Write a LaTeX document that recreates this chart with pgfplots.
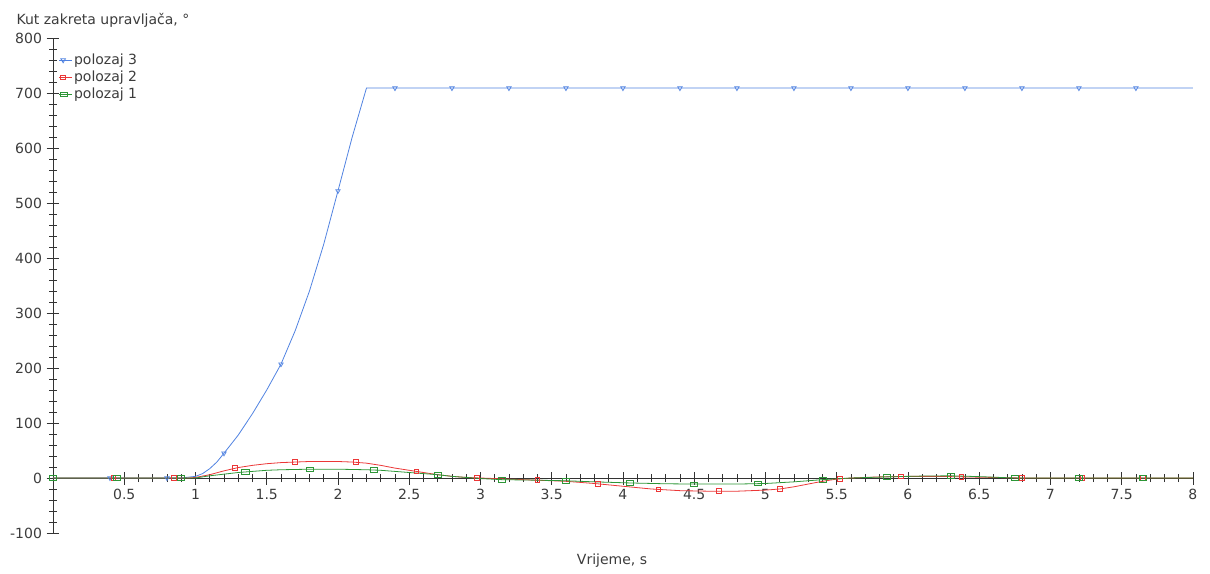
\documentclass[border=0pt]{standalone}
\usepackage{fontspec}
\setmainfont{DejaVu Sans}
\usepackage{pgfplots}
\pgfplotsset{compat=1.18}
\definecolor{cblue}{RGB}{80,130,225}
\definecolor{cred}{RGB}{235,55,55}
\definecolor{cgreen}{RGB}{45,150,55}
\definecolor{ctext}{RGB}{60,60,60}
\newcommand{\fs}{\fontsize{14}{17}\selectfont}
\begin{document}
\begin{tikzpicture}
\path[use as bounding box] (-53pt,-40pt) rectangle (1157pt,533pt);
\begin{axis}[
  at={(0pt,0pt)}, anchor=south west,
  scale only axis, width=1140pt, height=495pt,
  xmin=0, xmax=8, ymin=-100, ymax=800,
  axis lines=middle,
  axis line style={-, black!80, line width=0.8pt},
  hide obscured x ticks=false, hide obscured y ticks=false,
  xtick={0.5,1,1.5,2,2.5,3,3.5,4,4.5,5,5.5,6,6.5,7,7.5,8},
  xticklabels={0.5,1,1.5,2,2.5,3,3.5,4,4.5,5,5.5,6,6.5,7,7.5,8},
  ytick={-100,0,100,200,300,400,500,600,700,800},
  yticklabels={-100,0,100,200,300,400,500,600,700,800},
  minor x tick num=4, minor y tick num=4,
  tick align=center,
  major tick length=13pt, minor tick length=8pt,
  every tick/.style={black!80, line width=0.7pt},
  ticklabel style={font=\fs, text=ctext},
  xticklabel style={anchor=north, yshift=-1pt},
  yticklabel style={anchor=east, xshift=-1pt},
  xlabel={Vrijeme, s},
  ylabel={Kut zakreta upravljača, °},
  every axis x label/.style={at={(axis description cs:0.4904,-0.0565)}, anchor=center, font=\fs, text=ctext},
  every axis y label/.style={at={(axis description cs:-0.0351,1.0364)}, anchor=west, font=\fs, text=ctext},
  legend style={at={(axis description cs:0.004,0.973)}, anchor=north west, draw=none, fill=none,
    font=\fs, text=ctext, row sep=2pt, inner sep=1pt,
    nodes={inner sep=1.5pt}},
  legend cell align=left,
]
\addplot[cblue, line width=0.8pt, no markers,
  legend image code/.code={\draw[cblue, line width=0.8pt] (0pt,0pt) -- (13pt,0pt);
    \draw[cblue, line width=0.8pt] plot[mark=triangle, mark size=2.6pt, mark options={rotate=180, draw=cblue, fill=white}] coordinates {(4pt,0pt)};}]
table {
0 0
0.9 0
1.0 3
1.05 8
1.1 17
1.15 29
1.2 45
1.3 78
1.4 117
1.5 160
1.6 207
1.7 268
1.8 340
1.9 425
2.0 522
2.1 620
2.2 709
8 709
};
\addlegendentry{polozaj 3}
\addplot[cred, line width=0.8pt, no markers,
  legend image code/.code={\draw[cred, line width=0.8pt] (0pt,0pt) -- (13pt,0pt);
    \draw[cred, line width=0.9pt] plot[mark=square, mark size=2.3pt, mark options={draw=cred, fill=white}] coordinates {(4pt,0pt)};}]
table {
0 0
0.95 0
1.0 1
1.1 6
1.2 13
1.3 19
1.4 23
1.5 26
1.6 28
1.7 29
1.8 30
1.9 30
2.0 30
2.1 29
2.2 27
2.3 23
2.4 18
2.5 14
2.6 10
2.7 6
2.8 3
2.9 1
3.0 0
3.2 -2
3.4 -4
3.6 -6
3.8 -10
4.0 -15
4.2 -20
4.4 -23
4.6 -24
4.8 -24
5.0 -22
5.1 -20
5.2 -16
5.3 -11
5.4 -6
5.5 -2
5.6 0
5.8 2
6.0 3
6.2 3
6.4 2
6.6 1
6.8 0
8 0
};
\addlegendentry{polozaj 2}
\addplot[cgreen, line width=0.8pt, no markers,
  legend image code/.code={\draw[cgreen, line width=0.8pt] (0pt,0pt) -- (13pt,0pt);
    \draw[cgreen, line width=0.8pt] plot[mark=square, mark size=2.2pt, mark options={xscale=1.6, draw=cgreen, fill=white}] coordinates {(5pt,0pt)};}]
table {
0 0
1.0 0
1.1 4
1.2 7
1.3 10
1.4 12
1.5 14
1.6 15
1.8 16
2.0 16
2.2 15
2.3 14
2.4 12
2.5 10
2.6 8
2.7 6
2.8 3
2.9 1
3.0 -1
3.15 -3
3.4 -4
3.6 -5
3.8 -7
4.05 -9
4.3 -10.5
4.5 -11
4.8 -11
5.0 -10
5.2 -7
5.4 -3
5.6 0
5.85 2
6.1 3.5
6.3 4
6.5 2.5
6.75 0
8 0
};
\addlegendentry{polozaj 1}
% markers
\addplot[cblue, line width=0.7pt, only marks, mark=triangle, mark size=2.6pt,
  mark options={rotate=180, draw=cblue, fill=white}, forget plot]
table {
0.4 0
0.8 0
1.2 45
1.6 207
2.0 522
2.4 709
2.8 709
3.2 709
3.6 709
4.0 709
4.4 709
4.8 709
5.2 709
5.6 709
6.0 709
6.4 709
6.8 709
7.2 709
7.6 709
};
\addplot[cred, line width=0.9pt, only marks, mark=square, mark size=2.3pt,
  mark options={draw=cred, fill=white}, forget plot]
table {
0.425 0
0.85 0
1.275 18
1.7 29
2.125 29
2.55 12
2.975 0
3.4 -4
3.825 -11
4.25 -21
4.675 -24
5.1 -20
5.525 -2
5.95 3
6.375 2
6.8 0
7.225 0
7.65 0
};
\addplot[cgreen, line width=0.7pt, only marks, mark=square, mark size=2.2pt,
  mark options={xscale=1.6, draw=cgreen, fill=white}, forget plot]
table {
0 0
0.45 0
0.9 0
1.35 11
1.8 16
2.25 15
2.7 6
3.15 -3
3.6 -5
4.05 -9
4.5 -11
4.95 -10
5.4 -3
5.85 2
6.3 4
6.75 0
7.2 0
7.65 0
};
\end{axis}
\end{tikzpicture}
\end{document}
